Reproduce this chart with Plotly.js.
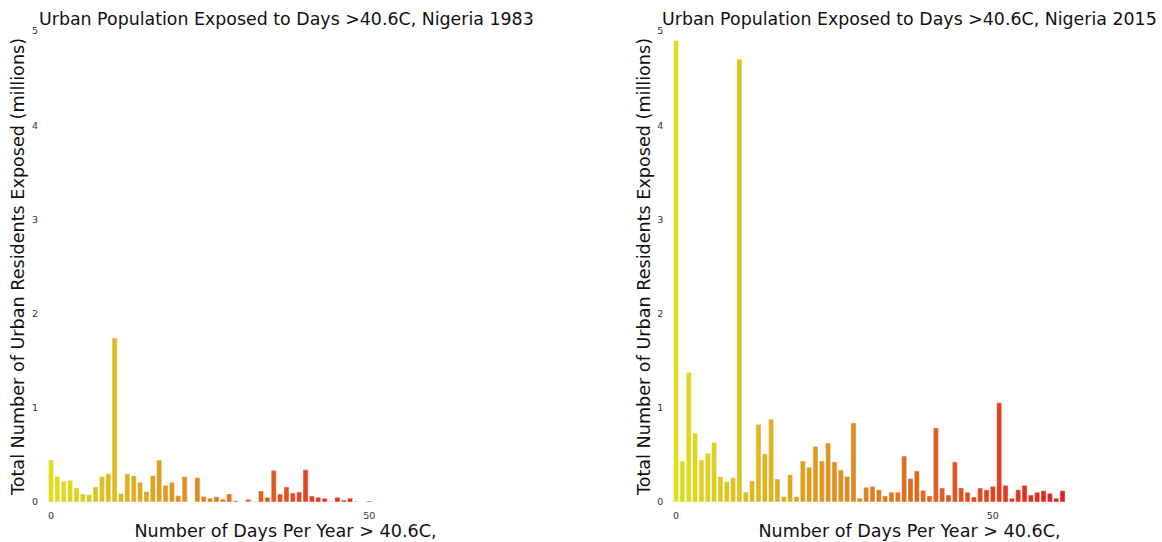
<!DOCTYPE html>
<html>
<head>
<meta charset="utf-8">
<script src="https://cdn.plot.ly/plotly-3.0.1.min.js"></script>
<style>html,body{margin:0;padding:0;background:#fff;}#chart{width:1162px;height:542px;}</style>
</head>
<body>
<div id="chart"></div>
<script>
// Days per year > 40.6C (x) and urban residents exposed, millions (y)
const days1983 = [0,1,2,3,4,5,6,7,8,9,10,11,12,13,14,15,16,17,18,19,20,21,23,24,25,26,27,28,29,31,32,33,34,35,36,37,38,39,40,41,42,43,44,45,46,47,48,50];
const pop1983 = [0.446,0.27,0.22,0.23,0.15,0.085,0.078,0.16,0.27,0.30,1.74,0.09,0.30,0.28,0.21,0.11,0.28,0.445,0.177,0.21,0.067,0.27,0.26,0.06,0.04,0.056,0.03,0.085,0.014,0.03,0.006,0.117,0.05,0.336,0.085,0.16,0.095,0.106,0.343,0.064,0.05,0.04,0.005,0.05,0.02,0.04,0.005,0.01];

const days2015 = [0,1,2,3,4,5,6,7,8,9,10,11,12,13,14,15,16,17,18,19,20,21,22,23,24,25,26,27,28,29,30,31,32,33,34,35,36,37,38,39,40,41,42,43,44,45,46,47,48,49,50,51,52,53,54,55,56,57,58,59,60,61];
const pop2015 = [4.90,0.435,1.377,0.73,0.446,0.517,0.63,0.27,0.216,0.258,4.70,0.106,0.223,0.825,0.51,0.88,0.244,0.057,0.29,0.057,0.435,0.37,0.59,0.435,0.626,0.425,0.34,0.27,0.84,0.04,0.156,0.166,0.13,0.064,0.103,0.103,0.488,0.25,0.33,0.124,0.064,0.786,0.149,0.074,0.425,0.149,0.103,0.053,0.149,0.13,0.166,1.054,0.177,0.04,0.13,0.177,0.074,0.103,0.12,0.092,0.04,0.12];

const yTicks = [0,1,2,3,4,5];
const xTicks = [0,50];
const titles = ["Urban Population Exposed to Days >40.6C, Nigeria 1983", "Urban Population Exposed to Days >40.6C, Nigeria 2015"];
const xLabel = "Number of Days Per Year > 40.6C,";
const yLabel = "Total Number of Urban Residents Exposed (millions)";

// desaturated autumn_r colormap: yellow -> red
function cmap(t){
  const g = Math.round(223 - 191*t);
  return 'rgb(223,' + g + ',32)';
}
function colorsFor(days){
  const maxD = Math.max.apply(null, days);
  return days.map(d => cmap(d / maxD));
}

const barStyle = (days) => ({
  color: colorsFor(days),
  line: {color: 'rgba(255,255,255,0.55)', width: 0.8}
});

const traces = [
  {type:'bar', x: days1983, y: pop1983, width: 0.8, marker: barStyle(days1983), xaxis:'x', yaxis:'y', hoverinfo:'x+y'},
  {type:'bar', x: days2015, y: pop2015, width: 0.8, marker: barStyle(days2015), xaxis:'x2', yaxis:'y2', hoverinfo:'x+y'}
];

const tickFont = {family:'DejaVu Sans, sans-serif', size:9.5, color:'#333'};
const labFont = {family:'DejaVu Sans, sans-serif', size:17.6, color:'#111'};
const titleFont = {family:'DejaVu Sans, sans-serif', size:17.4, color:'#111'};

function xax(domain, anchor){
  return {domain: domain, anchor: anchor, range:[-1.1, 74.8], tickvals: xTicks, ticktext: xTicks.map(String),
    showgrid:false, zeroline:false, showline:false, ticks:'outside', ticklen:5, tickcolor:'rgba(0,0,0,0)', tickfont: tickFont,
    title:{text: xLabel, font: labFont, standoff: 3}};
}
function yax(anchor){
  return {anchor: anchor, range:[0,5], tickvals: yTicks, ticktext: yTicks.map(String),
    showgrid:false, zeroline:false, showline:false, ticks:'outside', ticklen:3, tickcolor:'rgba(0,0,0,0)', tickfont: tickFont,
    title:{text: yLabel, font: labFont, standoff: 2}};
}

const layout = {
  width:1162, height:542,
  margin:{l:44, r:12, t:31, b:40},
  paper_bgcolor:'#fff', plot_bgcolor:'#fff',
  showlegend:false,
  xaxis: xax([0, 0.4367], 'y'),
  yaxis: yax('x'),
  xaxis2: xax([0.5652, 1], 'y2'),
  yaxis2: yax('x2'),
  annotations: [
    {text: titles[0], xref:'paper', yref:'paper', x:0.4367/2, y:1, yshift:12, xshift:1, xanchor:'center', yanchor:'middle', showarrow:false, font:titleFont},
    {text: titles[1], xref:'paper', yref:'paper', x:(0.5652+1)/2, y:1, yshift:12, xanchor:'center', yanchor:'middle', showarrow:false, font:titleFont}
  ]
};

Plotly.newPlot('chart', traces, layout, {displayModeBar:false, staticPlot:true});
</script>
</body>
</html>
